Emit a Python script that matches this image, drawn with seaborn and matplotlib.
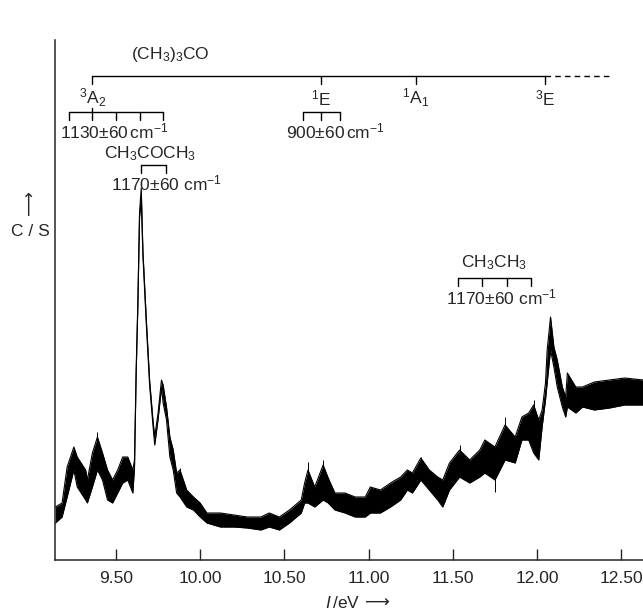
import numpy as np
import pandas as pd
import seaborn as sns
import matplotlib.pyplot as plt
from matplotlib.ticker import FormatStrFormatter

# photoelectron spectrum (energy in eV, counts arbitrary)
energy = [9.14, 9.18, 9.21, 9.25, 9.27, 9.32, 9.33, 9.36, 9.39, 9.42,
          9.45, 9.48, 9.51, 9.54, 9.57, 9.60, 9.61, 9.62, 9.63, 9.64,
          9.65, 9.66, 9.68, 9.70, 9.72, 9.73, 9.75, 9.77, 9.78, 9.80,
          9.82, 9.84, 9.86, 9.88, 9.92, 9.96, 10.00, 10.04, 10.12, 10.20,
          10.28, 10.36, 10.41, 10.47, 10.53, 10.60, 10.62, 10.64, 10.68, 10.73,
          10.76, 10.80, 10.86, 10.92, 10.98, 11.01, 11.07, 11.13, 11.19, 11.23,
          11.26, 11.31, 11.36, 11.41, 11.44, 11.48, 11.54, 11.60, 11.66, 11.69,
          11.75, 11.81, 11.87, 11.91, 11.95, 11.98, 12.01, 12.03, 12.05, 12.06,
          12.08, 12.10, 12.12, 12.15, 12.17, 12.18, 12.23, 12.27, 12.34, 12.43,
          12.52, 12.63]
upper = [53, 57, 93, 113, 103, 90, 80, 107, 123, 107,
         90, 80, 90, 103, 103, 90, 100, 192, 259, 348,
         372, 309, 241, 179, 139, 123, 147, 180, 175, 153,
         123, 110, 87, 90, 70, 63, 57, 47, 47, 45,
         43, 43, 47, 43, 50, 60, 77, 90, 73, 95,
         82, 67, 67, 63, 63, 73, 70, 77, 83, 90,
         87, 102, 90, 83, 80, 97, 110, 100, 110, 120,
         113, 135, 123, 143, 147, 155, 140, 150, 177, 210,
         243, 213, 200, 173, 163, 187, 173, 173, 178, 180,
         182, 180]
lower = [37, 43, 63, 90, 73, 60, 57, 73, 90, 80,
         60, 57, 67, 77, 80, 67, 92, 187, 254, 343,
         360, 304, 236, 174, 134, 115, 141, 172, 157, 140,
         103, 90, 67, 63, 53, 50, 43, 37, 33, 33,
         32, 30, 33, 30, 37, 47, 57, 57, 53, 60,
         57, 50, 47, 43, 43, 47, 47, 53, 60, 70,
         67, 80, 70, 60, 53, 70, 83, 77, 83, 87,
         80, 100, 97, 120, 120, 107, 100, 133, 160, 177,
         210, 193, 173, 153, 143, 153, 147, 153, 150, 152,
         155, 155]

# single noise spikes
spike_energy = [9.39, 9.88, 10.64, 10.73, 11.31, 11.54, 11.75, 11.81, 11.98]
spike_low = [100, 63, 57, 60, 80, 83, 68, 100, 107]
spike_high = [128, 92, 98, 100, 103, 115, 113, 143, 160]

x_ticks = [9.50, 10.00, 10.50, 11.00, 11.50, 12.00, 12.50]

# (CH3)3CO cation states
state_labels = [r'$^3$A$_2$', r'$^1$E', r'$^1$A$_1$', r'$^3$E']
state_energy = [9.36, 10.72, 11.28, 12.05]
state_dashed_end = 12.45

# vibrational progressions
prog_origin = [9.36, 10.72, 9.65, 11.53]
prog_wavenumber = [1130, 900, 1170, 1170]
prog_first = [-1, -1, 0, 0]
prog_last = [3, 1, 1, 3]
prog_text = [r'1130$\pm$60$\,$cm$^{-1}$', r'900$\pm$60$\,$cm$^{-1}$',
             r'1170$\pm$60 cm$^{-1}$', r'1170$\pm$60 cm$^{-1}$']

CM_TO_EV = 1.23984e-4

sns.set_style('ticks')
plt.rcParams['font.family'] = ['Liberation Sans', 'DejaVu Sans']
plt.rcParams['mathtext.fontset'] = 'custom'
plt.rcParams['mathtext.rm'] = 'Liberation Sans'
plt.rcParams['mathtext.it'] = 'Liberation Sans:italic'
plt.rcParams['mathtext.bf'] = 'Liberation Sans:bold'

fig = plt.figure(figsize=(6.43, 6.13), dpi=100)
ax = fig.add_axes([55 / 643, 53 / 613, 588 / 643, 520 / 613])

df = pd.DataFrame({'energy': energy, 'upper': upper, 'lower': lower})

ax.fill_between(df['energy'], df['lower'], df['upper'], color='black', lw=0)
sns.lineplot(data=df, x='energy', y='upper', sort=False, estimator=None,
             color='black', lw=0.8, ax=ax)
sns.lineplot(data=df, x='energy', y='lower', sort=False, estimator=None,
             color='black', lw=0.8, ax=ax)
ax.vlines(spike_energy, spike_low, spike_high, color='black', lw=0.7)

ax.set_xlim(9.138, 12.629)
ax.set_ylim(0, 520)
ax.set_xticks(x_ticks)
ax.xaxis.set_major_formatter(FormatStrFormatter('%.2f'))
ax.set_yticks([])
ax.tick_params(axis='x', direction='in', length=8, width=1, labelsize=12.5, pad=8)
ax.set_xlabel('')
ax.set_ylabel('')
for s in ['top', 'right']:
    ax.spines[s].set_visible(False)
for s in ['left', 'bottom']:
    ax.spines[s].set_linewidth(1.1)

fs = 12.5
lw = 1.0

# (CH3)3CO state ladder
top = 484
ax.plot([state_energy[0], state_energy[-1]], [top, top], color='black', lw=lw)
ax.plot([state_energy[-1], state_dashed_end], [top, top], color='black', lw=lw,
        ls=(0, (4, 3)))
for e, lab in zip(state_energy, state_labels):
    ax.plot([e, e], [top, top - 8], color='black', lw=lw)
    ax.text(e, top - 22, lab, ha='center', va='center', fontsize=fs)
ax.text(9.82, 505, r'(CH$_3$)$_3$CO', ha='center', va='center', fontsize=fs)

# progressions: bracket level, text positions
bracket_y = [448, 448, 395, 282]
text_pos = [(9.49, 429), (10.80, 429), (9.80, 377), (11.79, 263)]
for i in range(len(prog_origin)):
    step = prog_wavenumber[i] * CM_TO_EV
    pts = [prog_origin[i] + k * step for k in range(prog_first[i], prog_last[i] + 1)]
    y0 = bracket_y[i]
    ax.plot([pts[0], pts[-1]], [y0, y0], color='black', lw=lw)
    for p in pts:
        ax.plot([p, p], [y0, y0 - 8], color='black', lw=lw)
    ax.text(text_pos[i][0], text_pos[i][1], prog_text[i], ha='center',
            va='center', fontsize=fs)
    if i == 0:
        ax.plot([prog_origin[0], prog_origin[0]], [y0, y0 + 4], color='black', lw=lw)

ax.text(9.70, 406, r'CH$_3$COCH$_3$', ha='center', va='center', fontsize=fs)
ax.text(11.745, 297, r'CH$_3$CH$_3$', ha='center', va='center', fontsize=fs)

# axis captions
fig.text(30 / 643, 1 - 232 / 613, 'C / S', ha='center', va='center', fontsize=fs)
fig.text(30 / 643, 1 - 203 / 613, '\u27f6', ha='center', va='center',
         fontsize=fs, rotation=90, family='DejaVu Sans')
fig.text(343 / 643, 1 - 603 / 613, r'$I\,$/eV', ha='center', va='center',
         fontsize=fs)
fig.text(377 / 643, 1 - 603 / 613, '\u27f6', ha='center', va='center',
         fontsize=fs, family='DejaVu Sans')

fig.savefig('out.png', dpi=100)
